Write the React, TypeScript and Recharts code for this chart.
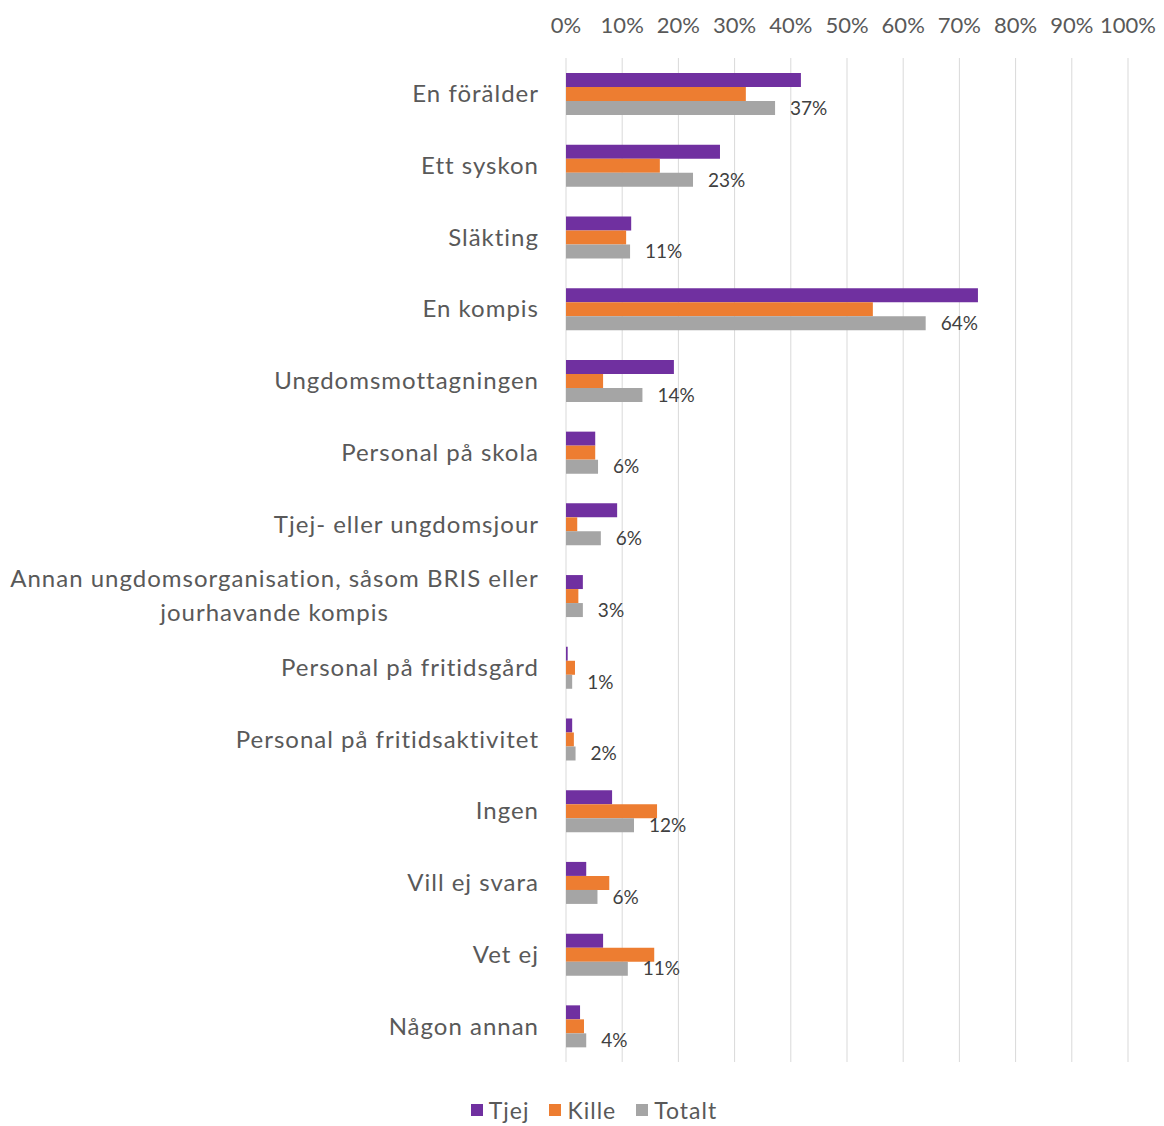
import React from 'react';
import { BarChart, Bar, XAxis, YAxis, CartesianGrid, Legend, LabelList } from 'recharts';

const categories = [
  'En förälder',
  'Ett syskon',
  'Släkting',
  'En kompis',
  'Ungdomsmottagningen',
  'Personal på skola',
  'Tjej- eller ungdomsjour',
  'Annan ungdomsorganisation, såsom BRIS eller jourhavande kompis',
  'Personal på fritidsgård',
  'Personal på fritidsaktivitet',
  'Ingen',
  'Vill ej svara',
  'Vet ej',
  'Någon annan',
];
const tjej = [41.8, 27.4, 11.6, 73.3, 19.2, 5.2, 9.1, 3.0, 0.3, 1.1, 8.2, 3.6, 6.6, 2.5];
const kille = [32.0, 16.7, 10.7, 54.6, 6.6, 5.2, 2.0, 2.2, 1.6, 1.4, 16.2, 7.7, 15.7, 3.2];
const totalt = [37.2, 22.6, 11.4, 64.0, 13.6, 5.7, 6.2, 3.0, 1.1, 1.7, 12.1, 5.6, 11.0, 3.6];
const xTicks = [0, 10, 20, 30, 40, 50, 60, 70, 80, 90, 100];
const seriesNames = ['Tjej', 'Kille', 'Totalt'];
const seriesColors = ['#7030A0', '#ED7D31', '#A5A5A5'];

const data = categories.map((c, i) => ({ name: c, Tjej: tjej[i], Kille: kille[i], Totalt: totalt[i] }));

const FONT = 'Lato, "Open Sans", sans-serif';
const CAT_SIZE = 24;
const CAT_LS = 1;
const MAX_LABEL_W = 545;

let ctx: CanvasRenderingContext2D | null = null;
function measure(text: string, size: number, ls: number): number {
  if (!ctx) {
    const c = document.createElement('canvas');
    ctx = c.getContext('2d');
  }
  if (!ctx) return text.length * (size * 0.5 + ls);
  ctx.font = `${size}px Lato`;
  return ctx.measureText(text).width + text.length * ls;
}

function wrap(text: string, size: number, ls: number, maxW: number): string[] {
  const words = text.split(' ');
  const lines: string[] = [];
  let cur = '';
  for (const w of words) {
    const test = cur ? cur + ' ' + w : w;
    if (cur && measure(test, size, ls) > maxW) {
      lines.push(cur);
      cur = w;
    } else {
      cur = test;
    }
  }
  if (cur) lines.push(cur);
  return lines;
}

const CategoryTick = (props: any) => {
  const { x, y, payload } = props;
  const lines = wrap(String(payload.value), CAT_SIZE, CAT_LS, MAX_LABEL_W);
  const right = x - 19;
  if (lines.length === 1) {
    return (
      <text
        x={right}
        y={y}
        dy="0.35em"
        textAnchor="end"
        fill="#595959"
        fontSize={CAT_SIZE}
        fontFamily={FONT}
        letterSpacing={CAT_LS}
      >
        {lines[0]}
      </text>
    );
  }
  const widest = Math.max(...lines.map((l) => measure(l, CAT_SIZE, CAT_LS)));
  const cx = right - widest / 2;
  const lh = 34;
  const start = y - ((lines.length - 1) * lh) / 2;
  return (
    <text textAnchor="middle" fill="#595959" fontSize={CAT_SIZE} fontFamily={FONT} letterSpacing={CAT_LS}>
      {lines.map((l, i) => (
        <tspan key={i} x={cx} y={start + i * lh} dy="0.35em">
          {l}
        </tspan>
      ))}
    </text>
  );
};

const LegendContent = () => (
  <div
    style={{
      height: 64,
      display: 'flex',
      justifyContent: 'center',
      alignItems: 'flex-end',
      paddingLeft: 52,
      boxSizing: 'border-box',
      paddingBottom: 2,
      fontFamily: FONT,
      fontSize: 23,
      letterSpacing: 1,
      color: '#595959',
    }}
  >
    {seriesNames.map((n, i) => (
      <div key={n} style={{ display: 'flex', alignItems: 'center', marginRight: i < seriesNames.length - 1 ? 20 : 0 }}>
        <span style={{ display: 'inline-block', width: 12, height: 12, background: seriesColors[i], marginRight: 6 }} />
        <span>{n}</span>
      </div>
    ))}
  </div>
);

export default function App() {
  return (
    <BarChart
      width={1148}
      height={1118}
      data={data}
      layout="vertical"
      margin={{ top: 0, right: 28, bottom: 0, left: 0 }}
      barCategoryGap="21%"
      barGap={0}
    >
      <CartesianGrid horizontal={false} vertical={true} stroke="#D9D9D9" strokeWidth={1} />
      <XAxis
        type="number"
        orientation="top"
        domain={[0, 100]}
        ticks={xTicks}
        tickFormatter={(v: number) => `${v}%`}
        axisLine={false}
        tickLine={false}
        height={50}
        tickSize={6}
        tickMargin={19}
        interval={0}
        tick={{ fill: '#595959', fontSize: 22, fontFamily: FONT }}
      />
      <YAxis
        type="category"
        dataKey="name"
        width={558}
        axisLine={false}
        tickLine={false}
        interval={0}
        tick={<CategoryTick />}
      />
      <Legend verticalAlign="bottom" content={<LegendContent />} />
      {seriesNames.map((n, i) => (
        <Bar key={n} dataKey={n} fill={seriesColors[i]} isAnimationActive={false}>
          {n === 'Totalt' ? (
            <LabelList
              dataKey="Totalt"
              position="right"
              offset={15}
              formatter={(v: number) => `${Math.round(v)}%`}
              fill="#404040"
              fontSize={19}
              fontFamily={FONT}
            />
          ) : null}
        </Bar>
      ))}
    </BarChart>
  );
}
